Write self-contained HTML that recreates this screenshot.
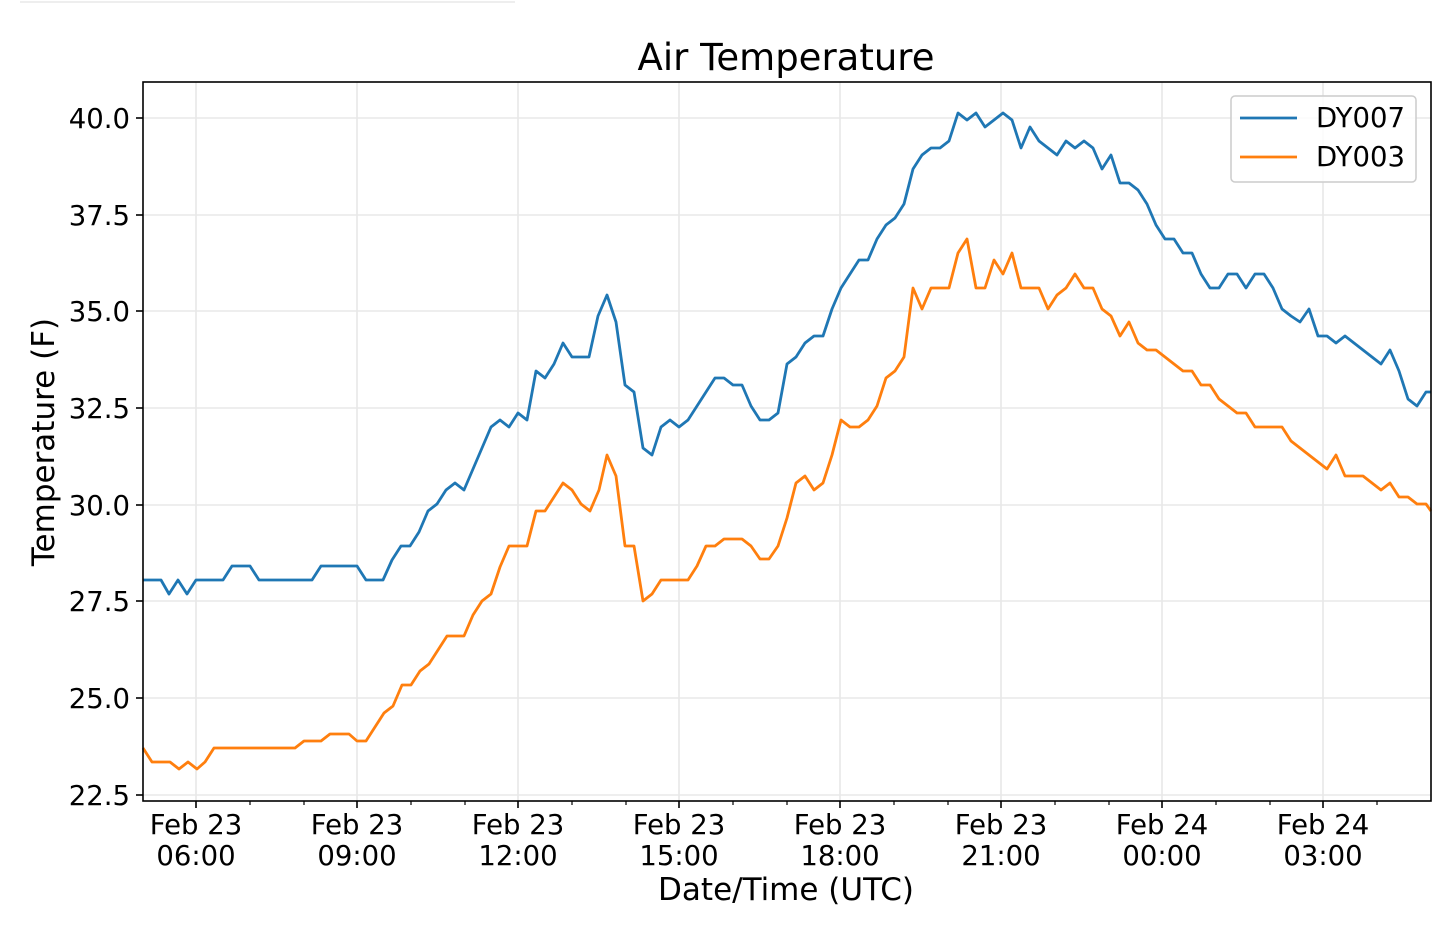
<!DOCTYPE html>
<html><head><meta charset="utf-8"><style>body{margin:0;background:#fff}</style></head><body>
<svg width="1440" height="928" xmlns="http://www.w3.org/2000/svg" font-family="DejaVu Sans, Liberation Sans, sans-serif">
<rect width="1440" height="928" fill="#fff"/>
<line x1="20" y1="2" x2="515" y2="2" stroke="#eee" stroke-width="2"/>
<g stroke="#e8e8e8" stroke-width="1.6">
<line x1="143" y1="118" x2="1431" y2="118"/><line x1="143" y1="215" x2="1431" y2="215"/><line x1="143" y1="311" x2="1431" y2="311"/><line x1="143" y1="408" x2="1431" y2="408"/><line x1="143" y1="505" x2="1431" y2="505"/><line x1="143" y1="601" x2="1431" y2="601"/><line x1="143" y1="698" x2="1431" y2="698"/><line x1="143" y1="795" x2="1431" y2="795"/>
<line x1="196" y1="82" x2="196" y2="801"/><line x1="357" y1="82" x2="357" y2="801"/><line x1="518" y1="82" x2="518" y2="801"/><line x1="679" y1="82" x2="679" y2="801"/><line x1="840" y1="82" x2="840" y2="801"/><line x1="1001" y1="82" x2="1001" y2="801"/><line x1="1162" y1="82" x2="1162" y2="801"/><line x1="1323" y1="82" x2="1323" y2="801"/>
</g>
<polyline fill="none" stroke="#1f77b4" stroke-width="2.8" stroke-linejoin="round" points="143,580 161,580 169,594 178,580 187,594 196,580 223,580 232,566 250,566 259,580 312,580 321,566 357,566 366,580 383,580 392,560 401,546 410,546 419,532 428,511 437,504 446,490 455,483 464,490 473,469 482,448 491,427 500,420 509,427 518,413 527,420 536,371 545,378 554,364 563,343 572,357 589,357 598,316 607,295 616,322 625,385 634,392 643,448 652,455 661,427 670,420 679,427 688,420 697,406 706,392 715,378 724,378 733,385 742,385 751,406 760,420 769,420 778,413 787,364 796,357 805,343 814,336 823,336 832,309 841,288 850,274 859,260 868,260 877,239 886,225 895,218 904,204 913,169 922,155 931,148 940,148 949,141 958,113 967,120 976,113 985,127 994,120 1003,113 1012,120 1021,148 1030,127 1039,141 1048,148 1057,155 1066,141 1075,148 1084,141 1093,148 1102,169 1111,155 1120,183 1129,183 1138,190 1147,204 1156,225 1165,239 1174,239 1183,253 1192,253 1201,274 1210,288 1219,288 1228,274 1237,274 1246,288 1255,274 1264,274 1273,288 1282,309 1291,316 1300,322 1309,309 1318,336 1327,336 1336,343 1345,336 1354,343 1363,350 1372,357 1381,364 1390,350 1399,371 1408,399 1417,406 1426,392 1431,392"/>
<polyline fill="none" stroke="#ff7f0e" stroke-width="2.8" stroke-linejoin="round" points="143,748 152,762 170,762 179,769 188,762 197,769 205,762 214,748 295,748 304,741 321,741 330,734 349,734 357,741 366,741 375,727 384,713 393,706 402,685 411,685 420,671 429,664 438,650 447,636 464,636 473,615 482,601 491,594 500,567 509,546 527,546 536,511 545,511 554,497 563,483 572,490 581,504 590,511 599,490 607,455 616,476 625,546 634,546 643,601 652,594 661,580 688,580 697,566 706,546 715,546 724,539 742,539 751,546 760,559 769,559 778,546 787,518 796,483 805,476 814,490 823,483 832,455 841,420 850,427 859,427 868,420 877,406 886,378 895,371 904,357 913,288 922,309 931,288 949,288 958,253 967,239 976,288 985,288 994,260 1003,274 1012,253 1021,288 1039,288 1048,309 1057,295 1066,288 1075,274 1084,288 1093,288 1102,309 1111,316 1120,336 1129,322 1138,343 1147,350 1156,350 1165,357 1174,364 1183,371 1192,371 1201,385 1210,385 1219,399 1228,406 1237,413 1246,413 1255,427 1282,427 1291,441 1300,448 1309,455 1318,462 1327,469 1336,455 1345,476 1363,476 1372,483 1381,490 1390,483 1399,497 1408,497 1417,504 1426,504 1431,511"/>
<rect x="143" y="82" width="1288" height="719" fill="none" stroke="#000" stroke-width="1.6"/>
<g stroke="#000" stroke-width="1.6">
<line x1="136" y1="118" x2="143" y2="118"/><line x1="136" y1="215" x2="143" y2="215"/><line x1="136" y1="311" x2="143" y2="311"/><line x1="136" y1="408" x2="143" y2="408"/><line x1="136" y1="505" x2="143" y2="505"/><line x1="136" y1="601" x2="143" y2="601"/><line x1="136" y1="698" x2="143" y2="698"/><line x1="136" y1="795" x2="143" y2="795"/>
<line x1="196" y1="801" x2="196" y2="808"/><line x1="357" y1="801" x2="357" y2="808"/><line x1="518" y1="801" x2="518" y2="808"/><line x1="679" y1="801" x2="679" y2="808"/><line x1="840" y1="801" x2="840" y2="808"/><line x1="1001" y1="801" x2="1001" y2="808"/><line x1="1162" y1="801" x2="1162" y2="808"/><line x1="1323" y1="801" x2="1323" y2="808"/>
</g>
<g stroke="#000" stroke-width="1.2">
<line x1="250" y1="801" x2="250" y2="805"/><line x1="304" y1="801" x2="304" y2="805"/><line x1="411" y1="801" x2="411" y2="805"/><line x1="465" y1="801" x2="465" y2="805"/><line x1="572" y1="801" x2="572" y2="805"/><line x1="626" y1="801" x2="626" y2="805"/><line x1="733" y1="801" x2="733" y2="805"/><line x1="787" y1="801" x2="787" y2="805"/><line x1="894" y1="801" x2="894" y2="805"/><line x1="948" y1="801" x2="948" y2="805"/><line x1="1055" y1="801" x2="1055" y2="805"/><line x1="1109" y1="801" x2="1109" y2="805"/><line x1="1216" y1="801" x2="1216" y2="805"/><line x1="1270" y1="801" x2="1270" y2="805"/><line x1="1377" y1="801" x2="1377" y2="805"/>
</g>
<g font-size="27.5" fill="#000" text-anchor="end">
<text x="130" y="128">40.0</text><text x="130" y="225">37.5</text><text x="130" y="321">35.0</text><text x="130" y="418">32.5</text><text x="130" y="515">30.0</text><text x="130" y="611">27.5</text><text x="130" y="708">25.0</text><text x="130" y="805">22.5</text>
</g>
<g font-size="27.5" fill="#000" text-anchor="middle">
<text x="196" y="834">Feb 23</text><text x="196" y="865">06:00</text>
<text x="357" y="834">Feb 23</text><text x="357" y="865">09:00</text>
<text x="518" y="834">Feb 23</text><text x="518" y="865">12:00</text>
<text x="679" y="834">Feb 23</text><text x="679" y="865">15:00</text>
<text x="840" y="834">Feb 23</text><text x="840" y="865">18:00</text>
<text x="1001" y="834">Feb 23</text><text x="1001" y="865">21:00</text>
<text x="1162" y="834">Feb 24</text><text x="1162" y="865">00:00</text>
<text x="1323" y="834">Feb 24</text><text x="1323" y="865">03:00</text>
<text x="786" y="900" font-size="31">Date/Time (UTC)</text>
<text x="786" y="70" font-size="37">Air Temperature</text>
<text transform="translate(54,442) rotate(-90)" font-size="31">Temperature (F)</text>
</g>
<rect x="1231" y="96" width="185" height="86" rx="4" fill="#fff" fill-opacity="0.8" stroke="#ccc" stroke-width="1.5"/>
<line x1="1240" y1="118" x2="1297" y2="118" stroke="#1f77b4" stroke-width="2.8"/>
<line x1="1240" y1="157" x2="1297" y2="157" stroke="#ff7f0e" stroke-width="2.8"/>
<text x="1316" y="127" font-size="27.5">DY007</text>
<text x="1316" y="166" font-size="27.5">DY003</text>
</svg>
</body></html>
